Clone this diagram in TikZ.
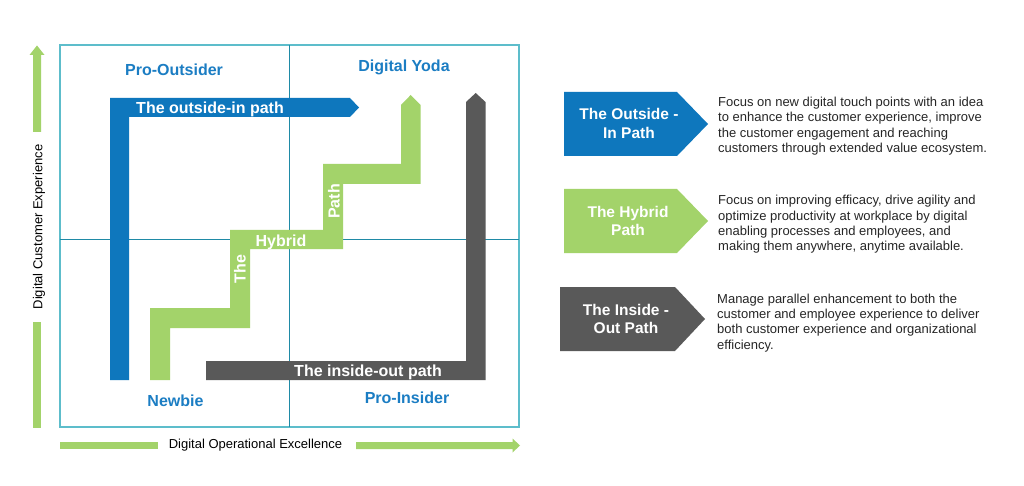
\documentclass[tikz,border=0pt]{standalone}
\usepackage{fontspec}
\setmainfont{Liberation Sans}
\definecolor{pblue}{HTML}{0E77BD}
\definecolor{pgreen}{HTML}{A3D36A}
\definecolor{pgray}{HTML}{595959}
\definecolor{qblue}{HTML}{1B7DC3}
\definecolor{framecol}{HTML}{5DBDCB}
\definecolor{divcol}{HTML}{1F8AA6}
\definecolor{desctext}{HTML}{262626}
\begin{document}
\begin{tikzpicture}[x=1pt,y=-1pt,
  quad/.style={font=\fontsize{16}{18}\selectfont\bfseries, text=qblue, inner sep=0, anchor=base},
  pathlbl/.style={font=\fontsize{16}{18}\selectfont\bfseries, text=white, inner sep=0, anchor=base},
  boxlbl/.style={font=\fontsize{15.5}{18}\selectfont\bfseries, text=white, inner sep=0, anchor=base},
  desc/.style={font=\fontsize{13}{15}\selectfont, text=desctext, inner sep=0, anchor=base west},
  axislbl/.style={font=\fontsize{13}{15}\selectfont, text=black, inner sep=0, anchor=base}]
\fill[white] (0,0) rectangle (1024,486);
\useasboundingbox (0,0) rectangle (1024,486);

% axis arrows
\fill[pgreen] (33,132) -- (33,55) -- (29.5,55) -- (37,45.5) -- (44.5,55) -- (41,55) -- (41,132) -- cycle;
\fill[pgreen] (33,322) rectangle (41,428);
\fill[pgreen] (60,442) rectangle (158,449);
\fill[pgreen] (356,442) -- (512.5,442) -- (512.5,438.5) -- (520,445.5) -- (512.5,452.5) -- (512.5,449) -- (356,449) -- cycle;
\node[axislbl, rotate=90] (yax) at (42.3,227) {Digital Customer Experience};
\node[axislbl] (xax) at (255.5,448) {Digital Operational Excellence};

% quadrant frame
\draw[framecol, line width=1.2pt] (60,45) rectangle (519,427);
\draw[divcol, line width=1pt] (289,45) -- (289,427);
\draw[divcol, line width=1pt] (60,239) -- (519,239);

% paths
\fill[pblue] (110,380) -- (110,98) -- (350,98) -- (359,107.5) -- (350,117) -- (129,117) -- (129,380) -- cycle;
\fill[pgreen] (150,380) -- (150,308) -- (230,308) -- (230,230) -- (323,230) -- (323,164) -- (401,164) -- (401,105) -- (410.7,95) -- (420.5,105) -- (420.5,184) -- (343,184) -- (343,249) -- (250,249) -- (250,328) -- (170,328) -- (170,380) -- cycle;
\fill[pgray] (206,361) -- (466,361) -- (466,102) -- (475.7,93) -- (485.5,102) -- (485.5,380) -- (206,380) -- cycle;

\node[pathlbl] (oilbl) at (210,113.5) {The outside-in path};
\node[pathlbl] (iolbl) at (368,376.5) {The inside-out path};
\node[pathlbl] (hyb) at (281,246) {Hybrid};
\node[pathlbl, anchor=center, rotate=90] (hthe) at (240,269) {The};
\node[pathlbl, anchor=center, rotate=90] (hpath) at (334,201.5) {Path};

% quadrant labels
\node[quad] (po) at (174,75.7) {Pro-Outsider};
\node[quad] (dy) at (404,71.5) {Digital Yoda};
\node[quad] (nb) at (175.5,406) {Newbie};
\node[quad] (pi) at (407,403) {Pro-Insider};

% legend boxes
\fill[pblue] (564,92) -- (677,92) -- (708,124) -- (677,156) -- (564,156) -- cycle;
\fill[pgreen] (564,189) -- (677,189) -- (708,221) -- (677,253) -- (564,253) -- cycle;
\fill[pgray] (560,287) -- (675,287) -- (705,319) -- (675,351) -- (560,351) -- cycle;

\node[boxlbl] (b1a) at (629,120) {The Outside -};
\node[boxlbl] (b1b) at (629,139) {In Path};
\node[boxlbl] (b2a) at (628,217.3) {The Hybrid};
\node[boxlbl] (b2b) at (628,236) {Path};
\node[boxlbl] (b3a) at (626,315) {The Inside -};
\node[boxlbl] (b3b) at (626,333.5) {Out Path};

\node[desc] (d1a) at (718,106.5) {Focus on new digital touch points with an idea};
\node[desc] (d1b) at (718,121.8) {to enhance the customer experience, improve};
\node[desc] (d1c) at (718,137.1) {the customer engagement and reaching};
\node[desc] (d1d) at (718,152.4) {customers through extended value ecosystem.};

\node[desc] (d2a) at (718,205) {Focus on improving efficacy, drive agility and};
\node[desc] (d2b) at (718,220.3) {optimize productivity at workplace by digital};
\node[desc] (d2c) at (718,235.6) {enabling processes and employees, and};
\node[desc] (d2d) at (718,250.9) {making them anywhere, anytime available.};

\node[desc] (d3a) at (717,303.3) {Manage parallel enhancement to both the};
\node[desc] (d3b) at (717,318.6) {customer and employee experience to deliver};
\node[desc] (d3c) at (717,333.9) {both customer experience and organizational};
\node[desc] (d3d) at (717,349.2) {efficiency.};
\end{tikzpicture}
\end{document}
